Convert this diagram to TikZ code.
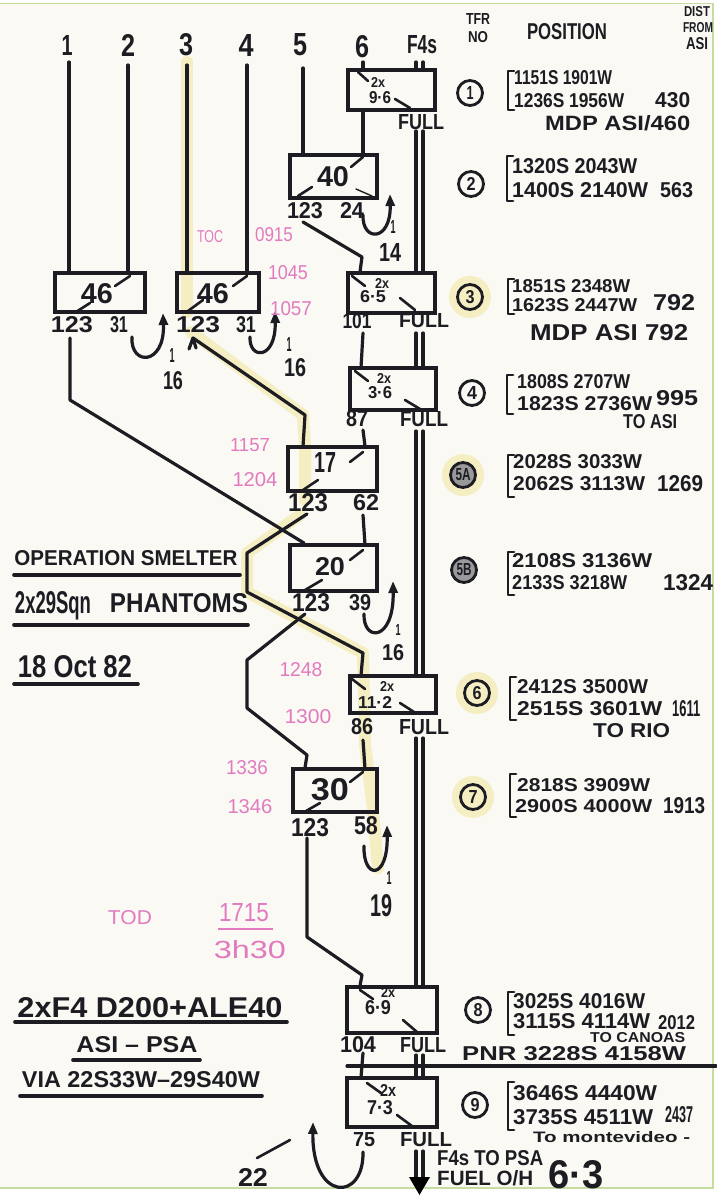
\documentclass[tikz,border=0pt]{standalone}
\usepackage{fontspec}
\setmainfont{Liberation Sans}
\usepackage{graphicx}
\usetikzlibrary{arrows.meta,calc}
\definecolor{ink}{HTML}{1C1C22}
\definecolor{pinkink}{HTML}{E27AC0}
\definecolor{paper}{HTML}{FAF9F3}
\definecolor{hl}{HTML}{F3EAAE}
\definecolor{edgegreen}{HTML}{C6DDA2}
\newcommand{\T}[3]{\resizebox{#1pt}{#2pt}{#3}}
\begin{document}
\begin{tikzpicture}[x=1pt,y=-1pt,
  box/.style={draw=ink, line width=3.8pt, rectangle, inner sep=0pt},
  conn/.style={draw=ink, line width=3.2pt, line cap=round, line join=round},
  tick/.style={draw=ink, line width=2.6pt, line cap=round},
  uarr/.style={draw=ink, line width=3.2pt, line cap=round, -{Triangle[length=12pt,width=9pt]}},
  ink/.style={text=ink, inner sep=0pt, font=\bfseries},
  pk/.style={text=pinkink, inner sep=0pt, font=\normalfont},
  circ/.style={draw=ink, circle, line width=2.8pt, minimum size=25pt, inner sep=0pt, text=ink, font=\bfseries},
  hlp/.style={draw=hl, line width=12pt, line cap=round, line join=round, opacity=0.7},
  uline/.style={draw=ink, line width=3.6pt, line cap=round},
  brk/.style={draw=ink, line width=2.8pt, line cap=round, line join=round}]
\useasboundingbox (0,0) rectangle (716,1200);
\fill[white] (0,0) rectangle (716,1200);
\fill[paper] (0,3) rectangle (713,1188);
\draw[edgegreen, line width=2pt] (713,3) -- (713,1188) -- (0,1188);
\draw[edgegreen, line width=1pt] (0,3) -- (713,3);

% ---------- yellow highlighter ----------
\draw[hlp] (187,62) -- (187,312);
\draw[hlp] (191,332) -- (303,415) -- (305,447) -- (305,500);
\draw[hlp] (300,515) -- (247,553) -- (247,592) -- (363,653) -- (365,745) -- (372,800) -- (378,868);
\fill[hl, opacity=0.7] (470,297) circle (21pt);
\fill[hl, opacity=0.7] (463,475) circle (21pt);
\fill[hl, opacity=0.7] (477,693) circle (21pt);
\fill[hl, opacity=0.7] (473,797) circle (21pt);

% ---------- header ----------
\node[ink] (h1) at (67,45) {\T{11}{20}{1}};
\node[ink] (h2) at (128,45) {\T{14}{22}{2}};
\node[ink] (h3) at (186,45) {\T{14}{22}{3}};
\node[ink] (h4) at (246,45) {\T{15}{22}{4}};
\node[ink] (h5) at (300,45) {\T{14}{22}{5}};
\node[ink] (h6) at (362,47) {\T{14}{22}{6}};
\node[ink] (hf) at (422,45) {\T{30}{18}{F4s}};
\node[ink] (htfr) at (478,19) {\T{24}{11}{TFR}};
\node[ink] (hno) at (478,37) {\T{20}{11}{NO}};
\node[ink] (hpos) at (567,32) {\T{80}{16}{POSITION}};
\node[ink] (hd1) at (697,12) {\T{26}{10}{DIST}};
\node[ink] (hd2) at (698,28) {\T{30}{10}{FROM}};
\node[ink] (hd3) at (697,44) {\T{22}{12}{ASI}};

% ---------- boxes ----------
\node[box, minimum width=90pt, minimum height=39pt] (K1) at (100,292.5) {};
\node[box, minimum width=82pt, minimum height=39pt] (K2) at (218,292.5) {};
\node[box, minimum width=87pt, minimum height=40pt] (A) at (391.5,90) {};
\node[box, minimum width=87pt, minimum height=43pt] (B) at (333.5,176.5) {};
\node[box, minimum width=87pt, minimum height=40pt] (C) at (391.5,293) {};
\node[box, minimum width=86pt, minimum height=42pt] (D) at (393,389) {};
\node[box, minimum width=89pt, minimum height=44pt] (E) at (332.5,469) {};
\node[box, minimum width=87pt, minimum height=46pt] (F) at (333.5,568) {};
\node[box, minimum width=86pt, minimum height=37pt] (G) at (393,694.5) {};
\node[box, minimum width=84pt, minimum height=43pt] (H) at (335,790.5) {};
\node[box, minimum width=90pt, minimum height=46pt] (I) at (392,1010) {};
\node[box, minimum width=90pt, minimum height=49pt] (J) at (392,1102.5) {};

% box ticks
\draw[tick] (130,276) -- (115,286);  \draw[tick] (90,303) -- (76,312);
\draw[tick] (247,276) -- (233,286);  \draw[tick] (203,300) -- (188,311);
\draw[tick] (358,72) -- (368,81);    \draw[tick] (395,99) -- (410,108);
\draw[tick] (363,157) -- (351,167);  \draw[tick] (312,187) -- (298,196); \draw[tick,line width=1.4pt] (356,189) -- (372,196);
\draw[tick] (352,276) -- (365,286);  \draw[tick] (400,298) -- (415,310);
\draw[tick] (355,371) -- (368,381);  \draw[tick] (405,400) -- (420,409);
\draw[tick] (363,452) -- (350,462);  \draw[tick] (318,480) -- (303,490);
\draw[tick] (363,550) -- (350,560);  \draw[tick] (322,580) -- (305,590);
\draw[tick] (352,679) -- (365,689);  \draw[tick] (400,703) -- (414,712);
\draw[tick] (363,772) -- (350,782);  \draw[tick] (320,803) -- (306,811);
\draw[tick] (360,990) -- (373,999);  \draw[tick] (403,1020) -- (417,1032);
\draw[tick] (367,1083) -- (381,1093); \draw[tick] (397,1115) -- (412,1126);

% box texts
\node[ink] (tK1) at (97,294) {\T{32}{20}{46}};
\node[ink] (tK2) at (213,294) {\T{32}{20}{46}};
\node[ink] (tA1) at (378,82) {\T{14}{10}{2x}};
\node[ink] (tA2) at (380,98) {\T{22}{12}{9·6}};
\node[ink] (tB) at (333,177) {\T{32}{20}{40}};
\node[ink] (tC1) at (382,283) {\T{14}{10}{2x}};
\node[ink] (tC2) at (373,297) {\T{26}{12}{6·5}};
\node[ink] (tD1) at (384,378) {\T{14}{10}{2x}};
\node[ink] (tD2) at (380,393) {\T{24}{12}{3·6}};
\node[ink] (tE) at (325,462) {\T{22}{20}{17}};
\node[ink] (tF) at (330,567) {\T{30}{18}{20}};
\node[ink] (tG1) at (387,686) {\T{14}{10}{2x}};
\node[ink] (tG2) at (375,702) {\T{34}{12}{11·2}};
\node[ink] (tH) at (330,790) {\T{38}{22}{30}};
\node[ink] (tI1) at (388,992) {\T{14}{10}{2x}};
\node[ink] (tI2) at (378,1008) {\T{26}{14}{6·9}};
\node[ink] (tJ1) at (388,1090) {\T{16}{12}{2x}};
\node[ink] (tJ2) at (380,1108) {\T{26}{14}{7·3}};

% labels under boxes
\node[ink] (oK1a) at (72,325) {\T{42}{16}{123}};
\node[ink] (oK1b) at (119,325) {\T{18}{16}{31}};
\node[ink] (oK2a) at (198,325) {\T{44}{16}{123}};
\node[ink] (oK2b) at (246,325) {\T{20}{16}{31}};
\node[ink] (oAf) at (421,122) {\T{46}{15}{FULL}};
\node[ink] (oBa) at (305,211) {\T{36}{16}{123}};
\node[ink] (oBb) at (352,210) {\T{24}{16}{24}};
\node[ink] (oCa) at (357,321) {\T{29}{15}{101}};
\node[ink] (oCf) at (424,321) {\T{50}{14}{FULL}};
\node[ink] (oDa) at (357,419) {\T{22}{16}{87}};
\node[ink] (oDf) at (424,419) {\T{48}{15}{FULL}};
\node[ink] (oEa) at (308,503) {\T{40}{18}{123}};
\node[ink] (oEb) at (366,503) {\T{26}{16}{62}};
\node[ink] (oFa) at (311,603) {\T{38}{18}{123}};
\node[ink] (oFb) at (360,603) {\T{22}{16}{39}};
\node[ink] (oGa) at (362,727) {\T{22}{16}{86}};
\node[ink] (oGf) at (424,727) {\T{50}{15}{FULL}};
\node[ink] (oHa) at (310,828) {\T{38}{18}{123}};
\node[ink] (oHb) at (366,826) {\T{24}{18}{58}};
\node[ink] (oIa) at (358,1045) {\T{36}{16}{104}};
\node[ink] (oIf) at (423,1045) {\T{46}{15}{FULL}};
\node[ink] (oJa) at (364,1140) {\T{22}{14}{75}};
\node[ink] (oJf) at (426,1140) {\T{52}{14}{FULL}};

% ---------- column lines ----------
\coordinate (s1) at (69,62); \coordinate (s2) at (128,65);
\coordinate (s3) at (187,65); \coordinate (s4) at (247,65);
\coordinate (s5) at (303,68); \coordinate (s6) at (363,62);
\draw[conn] (s1) -- (s1 |- K1.north);
\draw[conn] (s2) -- (s2 |- K1.north);
\draw[conn] (s3) -- (s3 |- K2.north);
\draw[conn] (s4) -- (s4 |- K2.north);
\draw[conn] (s5) -- (s5 |- B.north);
\draw[conn] (s6) -- (s6 |- A.north);
\draw[conn] (A.south -| s6) -- (B.north -| s6);

% ---------- F4s double line ----------
\foreach \fx in {416,423}{
  \coordinate (ft) at (\fx,0);
  \draw[conn] (\fx,62) -- (A.north -| ft);
  \draw[conn] (\fx,131) -- (C.north -| ft);
  \draw[conn] (\fx,333) -- (D.north -| ft);
  \draw[conn] (\fx,431) -- (G.north -| ft);
  \draw[conn] (\fx,738) -- (I.north -| ft);
  \draw[conn] (\fx,1055) -- (J.north -| ft);
  \draw[conn] (\fx,1151) -- (\fx,1180);
}
\coordinate (fend) at (419.5,1195);
\fill[ink] (409,1177) -- (430,1177) -- (fend) -- cycle;

% ---------- routes ----------
\coordinate (k1o) at (70,338);
\draw[conn] (k1o) -- (70,400) -- ($(F.north west)+(16,0)$);
\coordinate (k2o) at (193,338);
\draw[conn] (k2o) -- (305,415) -- ($(E.north west)+(17,0)$);
\draw[conn] (196,348) -- (193,338) -- (189,349);
\coordinate (bo) at (303,222);
\draw[conn] (bo) -- (362,257) -- ($(C.north west)+(14,0)$);
\coordinate (co) at (363,333);
\draw[conn] (co) -- ($(D.north west)+(13,0)$);
\coordinate (do) at (363,430);
\draw[conn] (do) -- ($(E.north east)+(-14,0)$);
\coordinate (eo) at (363,515);
\draw[conn] (eo) -- ($(F.north east)+(-14,0)$);
\coordinate (eo2) at (307,514);
\draw[conn] (eo2) -- (247,553) -- (247,592) -- (363,653) -- ($(G.north west)+(13,0)$);
\coordinate (fo) at (305,614);
\draw[conn] (fo) -- (247,660) -- (247,708) -- (307,755) -- ($(H.north west)+(14,0)$);
\coordinate (go) at (363,740);
\draw[conn] (go) -- ($(H.north east)+(-14,0)$);
\coordinate (ho) at (307,838);
\draw[conn] (ho) -- (307,937) -- (362,975) -- ($(I.north west)+(15,0)$);
\coordinate (io) at (363,1053);
\draw[conn] (io) -- ($(J.north west)+(16,0)$);

% PNR line
\coordinate (pnrA) at (347,1066); \coordinate (pnrB) at (716,1066);
\draw[conn] (pnrA) -- (pnrB);

% ---------- U-turn arrows ----------
\draw[uarr] (132,337) .. controls (130,366) and (165,366) .. (163,313);
\draw[uarr] (250,337) .. controls (249,360) and (276,360) .. (275,311);
\draw[uarr] (363,215) .. controls (362,242) and (391,242) .. (390,194);
\draw[uarr] (364,614) .. controls (363,642) and (394,642) .. (393,581);
\draw[uarr] (364,846) .. controls (363,880) and (388,880) .. (387,825);
\draw[uarr] (363,1152) .. controls (364,1202) and (312,1202) .. (313,1122);
\draw[tick] (257,1158) -- (290,1140);

\node[ink] (n1a) at (172,355) {\T{5}{14}{1}};
\node[ink] (n1b) at (173,381) {\T{20}{18}{16}};
\node[ink] (n2a) at (289,344) {\T{5}{14}{1}};
\node[ink] (n2b) at (295,368) {\T{22}{18}{16}};
\node[ink] (n3a) at (393,227) {\T{5}{13}{1}};
\node[ink] (n3b) at (390,252) {\T{22}{18}{14}};
\node[ink] (n4a) at (398,630) {\T{5}{11}{1}};
\node[ink] (n4b) at (393,653) {\T{22}{16}{16}};
\node[ink] (n5a) at (389,878) {\T{5}{13}{1}};
\node[ink] (n5b) at (381,906) {\T{22}{22}{19}};
\node[ink] (n6) at (253,1177) {\T{30}{18}{22}};

% ---------- pink times ----------
\node[pk] (p1) at (210,237) {\T{26}{12}{TOC}};
\node[pk] (p2) at (274,235) {\T{38}{14}{0915}};
\node[pk] (p3) at (288,273) {\T{40}{14}{1045}};
\node[pk] (p4) at (291,309) {\T{42}{14}{1057}};
\node[pk] (p5) at (250,445) {\T{40}{13}{1157}};
\node[pk] (p6) at (255,480) {\T{45}{14}{1204}};
\node[pk] (p7) at (301,670) {\T{43}{14}{1248}};
\node[pk] (p8) at (308,717) {\T{47}{14}{1300}};
\node[pk] (p9) at (247,768) {\T{42}{14}{1336}};
\node[pk] (p10) at (250,807) {\T{45}{14}{1346}};
\node[pk] (p11) at (130,918) {\T{44}{14}{TOD}};
\node[pk] (p12) at (244,913) {\T{50}{18}{1715}};
\draw[pinkink, line width=1.6pt] (218,929) -- (273,929);
\node[pk] (p13) at (250,950) {\T{72}{18}{3h30}};

% ---------- left titles ----------
\node[ink] (L1) at (126,558) {\T{223}{15}{OPERATION SMELTER}};
\draw[uline] (14,575) -- (240,575);
\node[ink] (L2a) at (53,606) {\T{76}{22}{2x29Sqn}};
\node[ink] (L2b) at (179,603) {\T{138}{19}{PHANTOMS}};
\draw[uline] (14,625) -- (248,625);
\node[ink] (L3) at (75,667) {\T{114}{22}{18 Oct 82}};
\draw[uline] (14,684) -- (138,684);
\node[ink] (L4) at (150,1008) {\T{265}{20}{2xF4 D200+ALE40}};
\draw[uline] (15,1022) -- (287,1022);
\node[ink] (L5) at (137,1045) {\T{121}{16}{ASI -- PSA}};
\draw[uline] (73,1060) -- (200,1060);
\node[ink] (L6) at (141,1080) {\T{238}{16}{VIA 22S33W--29S40W}};
\draw[uline] (20,1096) -- (262,1096);

% ---------- TFR circles ----------
\node[circ] (c1) at (470,93) {\T{7}{13}{1}};
\node[circ] (c2) at (471,184) {\T{9}{13}{2}};
\node[circ] (c3) at (470,297) {\T{9}{13}{3}};
\node[circ] (c4) at (472,393) {\T{10}{13}{4}};
\node[circ, fill=ink!45] (c5a) at (463,475) {\T{15}{12}{5A}};
\node[circ, fill=ink!45] (c5b) at (464,570) {\T{15}{12}{5B}};
\node[circ] (c6) at (477,693) {\T{9}{13}{6}};
\node[circ] (c7) at (473,797) {\T{9}{13}{7}};
\node[circ] (c8) at (478,1010) {\T{9}{13}{8}};
\node[circ] (c9) at (475,1105) {\T{9}{13}{9}};

% ---------- brackets ----------
\draw[brk] (514,71) -- (508,71) -- (508,110) -- (514,110);
\draw[brk] (513,156) -- (507,156) -- (507,201) -- (513,201);
\draw[brk] (514,279) -- (508,279) -- (508,314) -- (514,314);
\draw[brk] (513,375) -- (507,375) -- (507,414) -- (513,414);
\draw[brk] (514,455) -- (508,455) -- (508,497) -- (514,497);
\draw[brk] (514,552) -- (508,552) -- (508,595) -- (514,595);
\draw[brk] (516,677) -- (510,677) -- (510,720) -- (516,720);
\draw[brk] (516,774) -- (510,774) -- (510,817) -- (516,817);
\draw[brk] (514,992) -- (508,992) -- (508,1035) -- (514,1035);
\draw[brk] (514,1082) -- (508,1082) -- (508,1130) -- (514,1130);

% ---------- positions ----------
\node[ink, anchor=west] (r1a) at (514,78) {\T{98}{14}{1151S 1901W}};
\node[ink, anchor=west] (r1b) at (514,101) {\T{110}{14}{1236S 1956W}};
\node[ink, anchor=west] (r1c) at (655,100) {\T{35}{15}{430}};
\node[ink, anchor=west] (r1d) at (545,123) {\T{145}{15}{MDP ASI/460}};
\node[ink, anchor=west] (r2a) at (512,166) {\T{125}{15}{1320S 2043W}};
\node[ink, anchor=west] (r2b) at (512,190) {\T{136}{15}{1400S 2140W}};
\node[ink, anchor=west] (r2c) at (660,190) {\T{33}{15}{563}};
\node[ink, anchor=west] (r3a) at (512,286) {\T{118}{13}{1851S 2348W}};
\node[ink, anchor=west] (r3b) at (512,305) {\T{125}{13}{1623S 2447W}};
\node[ink, anchor=west] (r3c) at (653,303) {\T{42}{16}{792}};
\node[ink, anchor=west] (r3d) at (530,333) {\T{158}{16}{MDP ASI 792}};
\node[ink, anchor=west] (r4a) at (517,382) {\T{113}{14}{1808S 2707W}};
\node[ink, anchor=west] (r4b) at (517,404) {\T{135}{14}{1823S 2736W}};
\node[ink, anchor=west] (r4c) at (656,398) {\T{42}{15}{995}};
\node[ink, anchor=west] (r4d) at (623,422) {\T{54}{14}{TO ASI}};
\node[ink, anchor=west] (r5a) at (513,462) {\T{129}{14}{2028S 3033W}};
\node[ink, anchor=west] (r5b) at (513,484) {\T{132}{14}{2062S 3113W}};
\node[ink, anchor=west] (r5c) at (657,484) {\T{46}{16}{1269}};
\node[ink, anchor=west] (r6a) at (512,561) {\T{140}{14}{2108S 3136W}};
\node[ink, anchor=west] (r6b) at (512,583) {\T{115}{14}{2133S 3218W}};
\node[ink, anchor=west] (r6c) at (663,583) {\T{50}{16}{1324}};
\node[ink, anchor=west] (r7a) at (517,687) {\T{131}{14}{2412S 3500W}};
\node[ink, anchor=west] (r7b) at (517,709) {\T{145}{14}{2515S 3601W}};
\node[ink, anchor=west] (r7c) at (672,709) {\T{28}{16}{1611}};
\node[ink, anchor=west] (r7d) at (593,731) {\T{77}{14}{TO RIO}};
\node[ink, anchor=west] (r8a) at (517,785) {\T{133}{13}{2818S 3909W}};
\node[ink, anchor=west] (r8b) at (515,806) {\T{137}{13}{2900S 4000W}};
\node[ink, anchor=west] (r8c) at (663,806) {\T{42}{16}{1913}};
\node[ink, anchor=west] (r9a) at (513,1001) {\T{132}{15}{3025S 4016W}};
\node[ink, anchor=west] (r9b) at (513,1021) {\T{137}{15}{3115S 4114W}};
\node[ink, anchor=west] (r9c) at (658,1023) {\T{37}{14}{2012}};
\node[ink, anchor=west] (r9d) at (590,1038) {\T{95}{10}{TO CANOAS}};
\node[ink, anchor=west] (rp) at (462,1054) {\T{224}{14}{PNR 3228S 4158W}};
\node[ink, anchor=west] (r10a) at (513,1093) {\T{144}{15}{3646S 4440W}};
\node[ink, anchor=west] (r10b) at (513,1117) {\T{140}{15}{3735S 4511W}};
\node[ink, anchor=west] (r10c) at (665,1115) {\T{28}{16}{2437}};
\node[ink, anchor=west] (r10d) at (533,1137) {\T{157}{11}{To montevideo -}};
\node[ink, anchor=west] (b1) at (437,1158) {\T{106}{15}{F4s TO PSA}};
\node[ink, anchor=west] (b2) at (437,1178) {\T{96}{15}{FUEL O/H}};
\node[ink, anchor=west] (b3) at (548,1175) {\T{55}{28}{6·3}};
\end{tikzpicture}
\end{document}
